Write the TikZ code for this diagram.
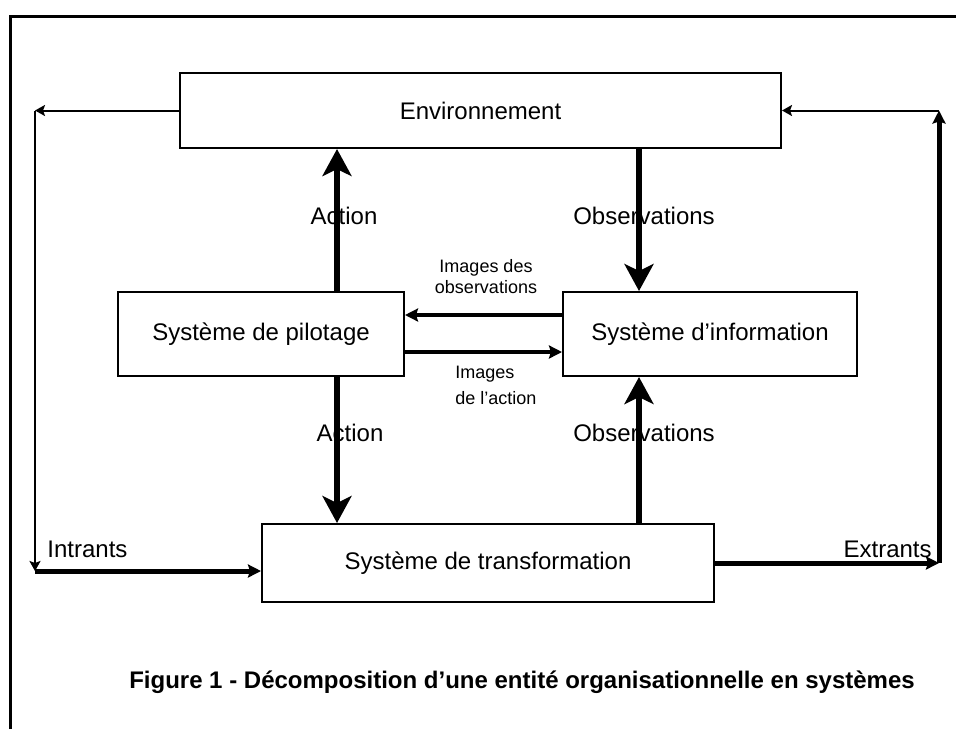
\documentclass[tikz,border=0pt]{standalone}
\usepackage{fontspec}
\setmainfont{Liberation Sans}
\usetikzlibrary{arrows.meta}

\begin{document}
\begin{tikzpicture}[
    x=0.5pt, y=-0.5pt,
    >=Stealth,
    every node/.style={font=\fontsize{12}{14}\selectfont, inner sep=0pt},
    box/.style={draw, line width=1pt},
    small/.style={font=\fontsize{9}{10.5}\selectfont},
    bigarrow/.style={line width=3pt, -{Stealth[length=13.5pt,width=14.5pt,inset=3.5pt]}},
    imgarrow/.style={line width=2.25pt, -{Stealth[length=6.5pt,width=6.5pt,inset=1pt]}},
    fatflow/.style={line width=2.5pt, -{Stealth[length=6.5pt,width=6.5pt,inset=1pt]}},
    loopflow/.style={line width=1pt, -{Stealth[length=5pt,width=5.5pt,inset=1pt]}}
]

\useasboundingbox (0,0) rectangle (956,729);

% frame
\draw[line width=1.5pt] (10,729) -- (10,16) -- (956,16);

\node[box, minimum width=300.5pt, minimum height=37.5pt] (env) at (480.5,110.5) {Environnement};

\node[box, minimum width=143pt, minimum height=42pt] (pil) at (261,334) {Système de pilotage};
\node[box, minimum width=147pt, minimum height=42pt] (inf) at (710,334) {Système d’information};

\node[box, minimum width=226pt, minimum height=39pt] (tra) at (488,563) {Système de transformation};

% labels
\node (act1) at (344,216) {Action};
\node (obs1) at (644,216) {Observations};
\node (act2) at (350,433) {Action};
\node (obs2) at (644,433) {Observations};

\node[small, align=center] (imgobs) at (486,277) {Images des\\observations};
\node[small, align=left, anchor=west, font=\fontsize{9}{13}\selectfont] (imgact) at (455,385) {Images\\de l’action};

\node[anchor=west] (intr) at (47,549) {Intrants};
\node[anchor=east] (extr) at (932,549) {Extrants};

\node[font=\bfseries\fontsize{12}{14}\selectfont] (cap) at (522,682) {Figure 1 - Décomposition d’une entité organisationnelle en systèmes};

% corners
\coordinate (tl) at (35,110.5);
\coordinate (bl) at (35,571);
\coordinate (tr) at (939,110.5);
\coordinate (br) at (939,563);
\coordinate (xa) at (337,0);
\coordinate (xo) at (639,0);
\coordinate (yo) at (0,315);
\coordinate (ya) at (0,352);

\draw[loopflow] (env.west) -- (tl);
\draw[loopflow] (tl) -- (bl);
\draw[fatflow] (bl) -- (bl -| tra.west);

\draw[fatflow] (tra.east) -- (br);
\draw[fatflow] (br) -- (tr);
\draw[loopflow] (tr) -- (env.east);

\draw[bigarrow] (pil.north -| xa) -- (env.south -| xa);
\draw[bigarrow] (env.south -| xo) -- (inf.north -| xo);
\draw[bigarrow] (pil.south -| xa) -- (tra.north -| xa);
\draw[bigarrow] (tra.north -| xo) -- (inf.south -| xo);

\draw[imgarrow] (inf.west |- yo) -- (pil.east |- yo);
\draw[imgarrow] (pil.east |- ya) -- (inf.west |- ya);

\end{tikzpicture}
\end{document}
